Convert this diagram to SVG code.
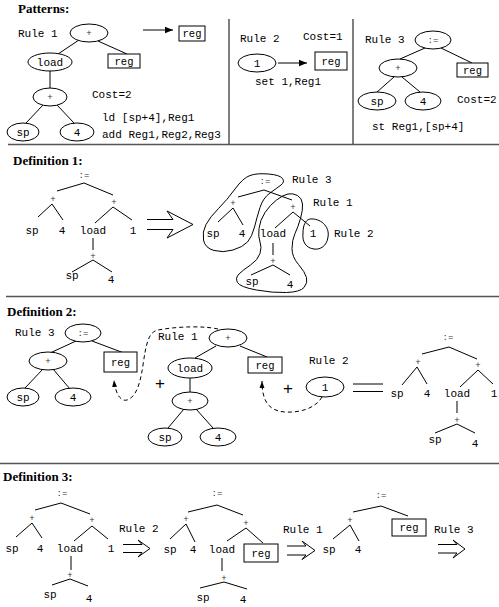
<svg xmlns="http://www.w3.org/2000/svg" width="499" height="607" viewBox="0 0 499 607">
<defs>
<style>
.h{font-family:"Liberation Serif",serif;font-weight:bold;font-size:13px;fill:#000}
.m{font-family:"Liberation Mono",monospace;font-size:11px;fill:#000}
.c{font-family:"Liberation Mono",monospace;font-size:11px;fill:#000;text-anchor:middle}
.r{font-family:"Liberation Mono",monospace;font-size:10.5px;fill:#000;text-anchor:middle}
.o{font-family:"Liberation Mono",monospace;font-size:9px;fill:#333;text-anchor:middle}
.bp{font-family:"Liberation Sans",sans-serif;font-size:17px;fill:#000;text-anchor:middle}
.n{fill:#fff;stroke:#000;stroke-width:1}
.e{fill:none;stroke:#000;stroke-width:1}
.sep{fill:none;stroke:#555;stroke-width:1.5}
.d{fill:none;stroke:#000;stroke-width:1;stroke-dasharray:4,3}
</style>
<marker id="ah" viewBox="0 0 10 10" refX="10" refY="5" markerWidth="8" markerHeight="8" markerUnits="userSpaceOnUse" orient="auto">
<path d="M0,1 L10,5 L0,9 Z" fill="#000"/>
</marker>
<marker id="ad" viewBox="0 0 10 10" refX="10" refY="5" markerWidth="7" markerHeight="7" markerUnits="userSpaceOnUse" orient="auto">
<path d="M0,1.5 L10,5 L0,8.5 Z" fill="#000"/>
</marker>
</defs>
<rect width="499" height="607" fill="#fff"/>

<!-- separators -->
<g id="separators">
<line class="sep" x1="8" y1="144.5" x2="499" y2="144.5"/>
<line class="sep" x1="6" y1="296.5" x2="499" y2="296.5"/>
<line class="sep" x1="0" y1="463.5" x2="499" y2="463.5"/>
<line class="sep" x1="229" y1="19" x2="229" y2="144"/>
<line class="sep" x1="353" y1="19" x2="353" y2="144"/>
</g>

<!-- headings -->
<text class="h" x="18" y="13">Patterns:</text>
<text class="h" x="13" y="165">Definition 1:</text>
<text class="h" x="7" y="316">Definition 2:</text>
<text class="h" x="3" y="481">Definition 3:</text>

<!-- ===== Patterns: Rule 1 ===== -->
<g id="p1-connectors">
<line class="e" x1="79" y1="40" x2="58" y2="54"/>
<line class="e" x1="98" y1="41" x2="127" y2="54"/>
<line class="e" x1="50" y1="71" x2="50" y2="88"/>
<line class="e" x1="43" y1="105" x2="26" y2="123"/>
<line class="e" x1="57" y1="105" x2="74" y2="123"/>
<line class="e" x1="143" y1="30" x2="173" y2="30" marker-end="url(#ah)"/>
</g>
<text class="m" x="18" y="37">Rule 1</text>
<g id="p1-plus"><ellipse class="n" cx="89" cy="33" rx="19" ry="9"/><text class="o" x="89" y="36">+</text></g>
<g id="p1-regout"><rect class="n" x="179" y="26" width="26" height="15"/><text class="r" x="192" y="37">reg</text></g>
<g id="p1-load"><ellipse class="n" cx="50" cy="62" rx="22" ry="9"/><text class="c" x="50" y="65.5">load</text></g>
<g id="p1-reg"><rect class="n" x="108" y="54" width="32" height="14"/><text class="r" x="124" y="64.5">reg</text></g>
<g id="p1-plus2"><ellipse class="n" cx="50" cy="97" rx="17" ry="9"/><text class="o" x="50" y="100">+</text></g>
<g id="p1-sp"><ellipse class="n" cx="23" cy="132" rx="16" ry="9"/><text class="c" x="23" y="135.5">sp</text></g>
<g id="p1-4"><ellipse class="n" cx="77" cy="132" rx="17" ry="9"/><text class="c" x="77" y="135.5">4</text></g>
<text class="m" x="92" y="98">Cost=2</text>
<text class="m" x="102" y="121">ld [sp+4],Reg1</text>
<text class="m" x="102" y="138">add Reg1,Reg2,Reg3</text>

<!-- ===== Patterns: Rule 2 ===== -->
<text class="m" x="240" y="42">Rule 2</text>
<text class="m" x="303" y="40">Cost=1</text>
<g id="p2-connectors"><line class="e" x1="278" y1="63" x2="307" y2="63" marker-end="url(#ah)"/></g>
<g id="p2-1"><ellipse class="n" cx="257" cy="63" rx="19" ry="9"/><text class="c" x="257" y="66.5">1</text></g>
<g id="p2-reg"><rect class="n" x="315" y="52" width="32" height="18"/><text class="r" x="331" y="64.5">reg</text></g>
<text class="m" x="255" y="85">set 1,Reg1</text>

<!-- ===== Patterns: Rule 3 ===== -->
<text class="m" x="365" y="43">Rule 3</text>
<g id="p3-connectors">
<line class="e" x1="425" y1="48" x2="400" y2="59"/>
<line class="e" x1="441" y1="48" x2="472" y2="63"/>
<line class="e" x1="394" y1="77" x2="377" y2="92"/>
<line class="e" x1="402" y1="77" x2="420" y2="92"/>
</g>
<g id="p3-assign"><ellipse class="n" cx="433" cy="40" rx="18" ry="9"/><text class="o" x="433" y="43">:=</text></g>
<g id="p3-plus"><ellipse class="n" cx="398" cy="68" rx="19" ry="9"/><text class="o" x="398" y="71">+</text></g>
<g id="p3-reg"><rect class="n" x="457" y="63" width="31" height="14"/><text class="r" x="472.5" y="73.5">reg</text></g>
<g id="p3-sp"><ellipse class="n" cx="377" cy="101" rx="19" ry="9"/><text class="c" x="377" y="104.5">sp</text></g>
<g id="p3-4"><ellipse class="n" cx="423" cy="101" rx="18" ry="9"/><text class="c" x="423" y="104.5">4</text></g>
<text class="m" x="457" y="103">Cost=2</text>
<text class="m" x="372" y="130">st Reg1,[sp+4]</text>

<!-- ===== Definition 1 ===== -->
<g id="d1-treeA">
<text class="o" x="84" y="178">:=</text>
<polyline class="e" points="57,191 84,183 113,195"/>
<text class="o" x="53" y="202">+</text>
<text class="o" x="114" y="205">+</text>
<polyline class="e" points="38,217 52,204 63,220"/>
<polyline class="e" points="95,223 113,207 132,220"/>
<text class="c" x="32" y="234">sp</text>
<text class="c" x="62" y="234">4</text>
<text class="c" x="93" y="234">load</text>
<text class="c" x="133" y="234">1</text>
<line class="e" x1="93" y1="238" x2="93" y2="250"/>
<text class="o" x="93" y="259">+</text>
<polyline class="e" points="72,272 93,260 112,272"/>
<text class="c" x="72" y="279">sp</text>
<text class="c" x="111" y="283">4</text>
</g>
<g id="d1-arrow"><path class="e" d="M147,219.5 H173 L167,211 L193,224.5 L167,238 L173,229.5 H147"/></g>
<g id="d1-treeB">
<text class="o" x="265" y="184">:=</text>
<polyline class="e" points="238,197 264,190 292,200"/>
<text class="o" x="233" y="206">+</text>
<text class="o" x="293" y="210">+</text>
<polyline class="e" points="218,222 233,208 243,225"/>
<polyline class="e" points="275,228 293,212 310,226"/>
<text class="c" x="213" y="237">sp</text>
<text class="c" x="242" y="237">4</text>
<text class="c" x="273" y="237">load</text>
<text class="c" x="313" y="237">1</text>
<line class="e" x1="273" y1="243" x2="273" y2="255"/>
<text class="o" x="273" y="264">+</text>
<polyline class="e" points="251,275 273,265 290,275"/>
<text class="c" x="252" y="285">sp</text>
<text class="c" x="290" y="288">4</text>
</g>
<g id="d1-blobs">
<path class="e" d="M268.5,174 Q280,175 282.5,178.5 Q285,182 281,185 Q277,188 270,193 Q263,198 260,207.5 Q257,217 254.5,227 Q252,237 247.5,242 Q243,247 233,250 Q223,253 214,250.5 Q205,248 203.5,240 Q202,232 206,224.5 Q210,217 218.5,208.5 Q227,200 235,189 Q243,178 250,175.5 Q257,173 268.5,174 Z"/>
<path class="e" d="M297.5,195.5 Q302,198 302.5,204 Q303,210 300.5,218.5 Q298,227 295,233.5 Q292,240 292,248.5 Q292,257 298.5,264.5 Q305,272 306.5,277.5 Q308,283 304,287.5 Q300,292 286.5,292.5 Q273,293 256.5,290 Q240,287 237.5,282.5 Q235,278 239,274 Q243,270 250.5,265 Q258,260 260,253.5 Q262,247 260,242 Q258,237 259,228.5 Q260,220 265,212.5 Q270,205 276.5,200 Q283,195 288,194 Q293,193 297.5,195.5 Z"/>
<path class="e" d="M310,219 C320,218 330,226 328,237 C327,246 320,250 314,249 C306,248 302,242 303,233 C303,226 305,220 310,219 Z"/>
</g>
<text class="m" x="292" y="183">Rule 3</text>
<text class="m" x="313" y="206">Rule 1</text>
<text class="m" x="334" y="237">Rule 2</text>

<!-- ===== Definition 2 ===== -->
<g id="d2-connectors">
<line class="e" x1="76" y1="341" x2="50" y2="353"/>
<line class="e" x1="92" y1="341" x2="124" y2="353"/>
<line class="e" x1="43" y1="369" x2="25" y2="388"/>
<line class="e" x1="53" y1="369" x2="70" y2="389"/>
<line class="e" x1="216" y1="346" x2="195" y2="358"/>
<line class="e" x1="240" y1="346" x2="267" y2="357"/>
<line class="e" x1="190" y1="378" x2="190" y2="392"/>
<line class="e" x1="184" y1="409" x2="168" y2="428"/>
<line class="e" x1="196" y1="409" x2="213" y2="428"/>
<path class="d" d="M218,329 C205,326 180,326 158,330 C148,332 146,345 143,365 C140,385 136,397 127,400 C120,402 115,392 114,380" marker-end="url(#ad)"/>
<path class="d" d="M322,397 C316,408 300,413 285,412 C268,411 262,400 262,381" marker-end="url(#ad)"/>
</g>
<text class="m" x="15" y="336">Rule 3</text>
<g id="d2-assign"><ellipse class="n" cx="83" cy="333" rx="18" ry="9"/><text class="o" x="83" y="336">:=</text></g>
<g id="d2-plus"><ellipse class="n" cx="48" cy="361" rx="19" ry="9"/><text class="o" x="48" y="364">+</text></g>
<g id="d2-reg"><rect class="n" x="104" y="352" width="33" height="20"/><text class="r" x="120.5" y="365.5">reg</text></g>
<g id="d2-sp"><ellipse class="n" cx="23" cy="397" rx="16" ry="9"/><text class="c" x="23" y="400.5">sp</text></g>
<g id="d2-4"><ellipse class="n" cx="73" cy="397" rx="18" ry="9"/><text class="c" x="73" y="400.5">4</text></g>
<text class="bp" x="160" y="389">+</text>
<text class="m" x="158" y="340">Rule 1</text>
<g id="d2-r1plus"><ellipse class="n" cx="228" cy="338" rx="19" ry="9"/><text class="o" x="228" y="341">+</text></g>
<g id="d2-load"><ellipse class="n" cx="190" cy="368" rx="22" ry="10"/><text class="c" x="190" y="371.5">load</text></g>
<g id="d2-r1reg"><rect class="n" x="248" y="357" width="34" height="16"/><text class="r" x="265" y="368.5">reg</text></g>
<g id="d2-plus2"><ellipse class="n" cx="190" cy="401" rx="18" ry="9"/><text class="o" x="190" y="404">+</text></g>
<g id="d2-sp2"><ellipse class="n" cx="165" cy="437" rx="17" ry="9"/><text class="c" x="165" y="440.5">sp</text></g>
<g id="d2-42"><ellipse class="n" cx="218" cy="437" rx="18" ry="9"/><text class="c" x="218" y="440.5">4</text></g>
<text class="bp" x="288" y="394">+</text>
<text class="m" x="309" y="364">Rule 2</text>
<g id="d2-1"><ellipse class="n" cx="325" cy="387" rx="19" ry="10"/><text class="c" x="325" y="390.5">1</text></g>
<g id="d2-eq"><line class="e" x1="353" y1="384" x2="383" y2="384"/><line class="e" x1="353" y1="391.5" x2="383" y2="391.5"/></g>
<g id="d2-treeC">
<text class="o" x="448" y="340">:=</text>
<polyline class="e" points="422,354 449,347 477,359"/>
<text class="o" x="418" y="365">+</text>
<text class="o" x="478" y="368">+</text>
<polyline class="e" points="402,385 417,367 427,384"/>
<polyline class="e" points="460,387 478,370 493,384"/>
<text class="c" x="397" y="397">sp</text>
<text class="c" x="427" y="397">4</text>
<text class="c" x="457" y="397">load</text>
<text class="c" x="494" y="397">1</text>
<line class="e" x1="457" y1="401" x2="457" y2="413"/>
<text class="o" x="457" y="423">+</text>
<polyline class="e" points="435,433 457,424 475,433"/>
<text class="c" x="435" y="443">sp</text>
<text class="c" x="475" y="447">4</text>
</g>

<!-- ===== Definition 3 ===== -->
<g id="d3-treeD">
<text class="o" x="62" y="496">:=</text>
<polyline class="e" points="35,510 61,503 90,514"/>
<text class="o" x="32" y="521">+</text>
<text class="o" x="92" y="523">+</text>
<polyline class="e" points="16,537 32,523 42,538"/>
<polyline class="e" points="74,541 92,526 108,539"/>
<text class="c" x="12" y="552">sp</text>
<text class="c" x="40" y="552">4</text>
<text class="c" x="70" y="552">load</text>
<text class="c" x="111" y="552">1</text>
<line class="e" x1="71" y1="556" x2="71" y2="570"/>
<text class="o" x="70" y="578">+</text>
<polyline class="e" points="52,585 70,579 88,586"/>
<text class="c" x="50" y="598">sp</text>
<text class="c" x="89" y="602">4</text>
</g>
<text class="m" x="119" y="532">Rule 2</text>
<g id="d3-arrow1"><path class="e" d="M123,544.5 H142 L138,540 L150,548.5 L138,557 L142,552.5 H123"/></g>
<g id="d3-treeE">
<text class="o" x="217" y="496">:=</text>
<polyline class="e" points="188,512 217,505 243,515"/>
<text class="o" x="186" y="522">+</text>
<text class="o" x="246" y="526">+</text>
<polyline class="e" points="170,539 186,524 195,542"/>
<polyline class="e" points="227,541 246,528 263,543"/>
<text class="c" x="170" y="553">sp</text>
<text class="c" x="193" y="553">4</text>
<text class="c" x="222" y="553">load</text>
<rect class="n" x="244" y="544" width="34" height="18"/><text class="r" x="261" y="556.5">reg</text>
<line class="e" x1="222" y1="558" x2="222" y2="571"/>
<text class="o" x="224" y="581">+</text>
<polyline class="e" points="200,588 224,582 247,589"/>
<text class="c" x="203" y="601">sp</text>
<text class="c" x="243" y="603">4</text>
</g>
<text class="m" x="283" y="533">Rule 1</text>
<g id="d3-arrow2"><path class="e" d="M287,546 H306 L302,541 L315,550.5 L302,559.5 L306,555 H287"/></g>
<g id="d3-treeF">
<text class="o" x="381" y="498">:=</text>
<polyline class="e" points="353,512 381,506 408,516"/>
<text class="o" x="350" y="523">+</text>
<polyline class="e" points="333,539 350,525 359,541"/>
<text class="c" x="329" y="553">sp</text>
<text class="c" x="358" y="553">4</text>
<rect class="n" x="392" y="519" width="34" height="17"/><text class="r" x="409" y="531">reg</text>
</g>
<text class="m" x="434" y="533">Rule 3</text>
<g id="d3-arrow3"><path class="e" d="M438,544.5 H457 L453,540 L465,549 L453,558 L457,553 H438"/></g>
</svg>
